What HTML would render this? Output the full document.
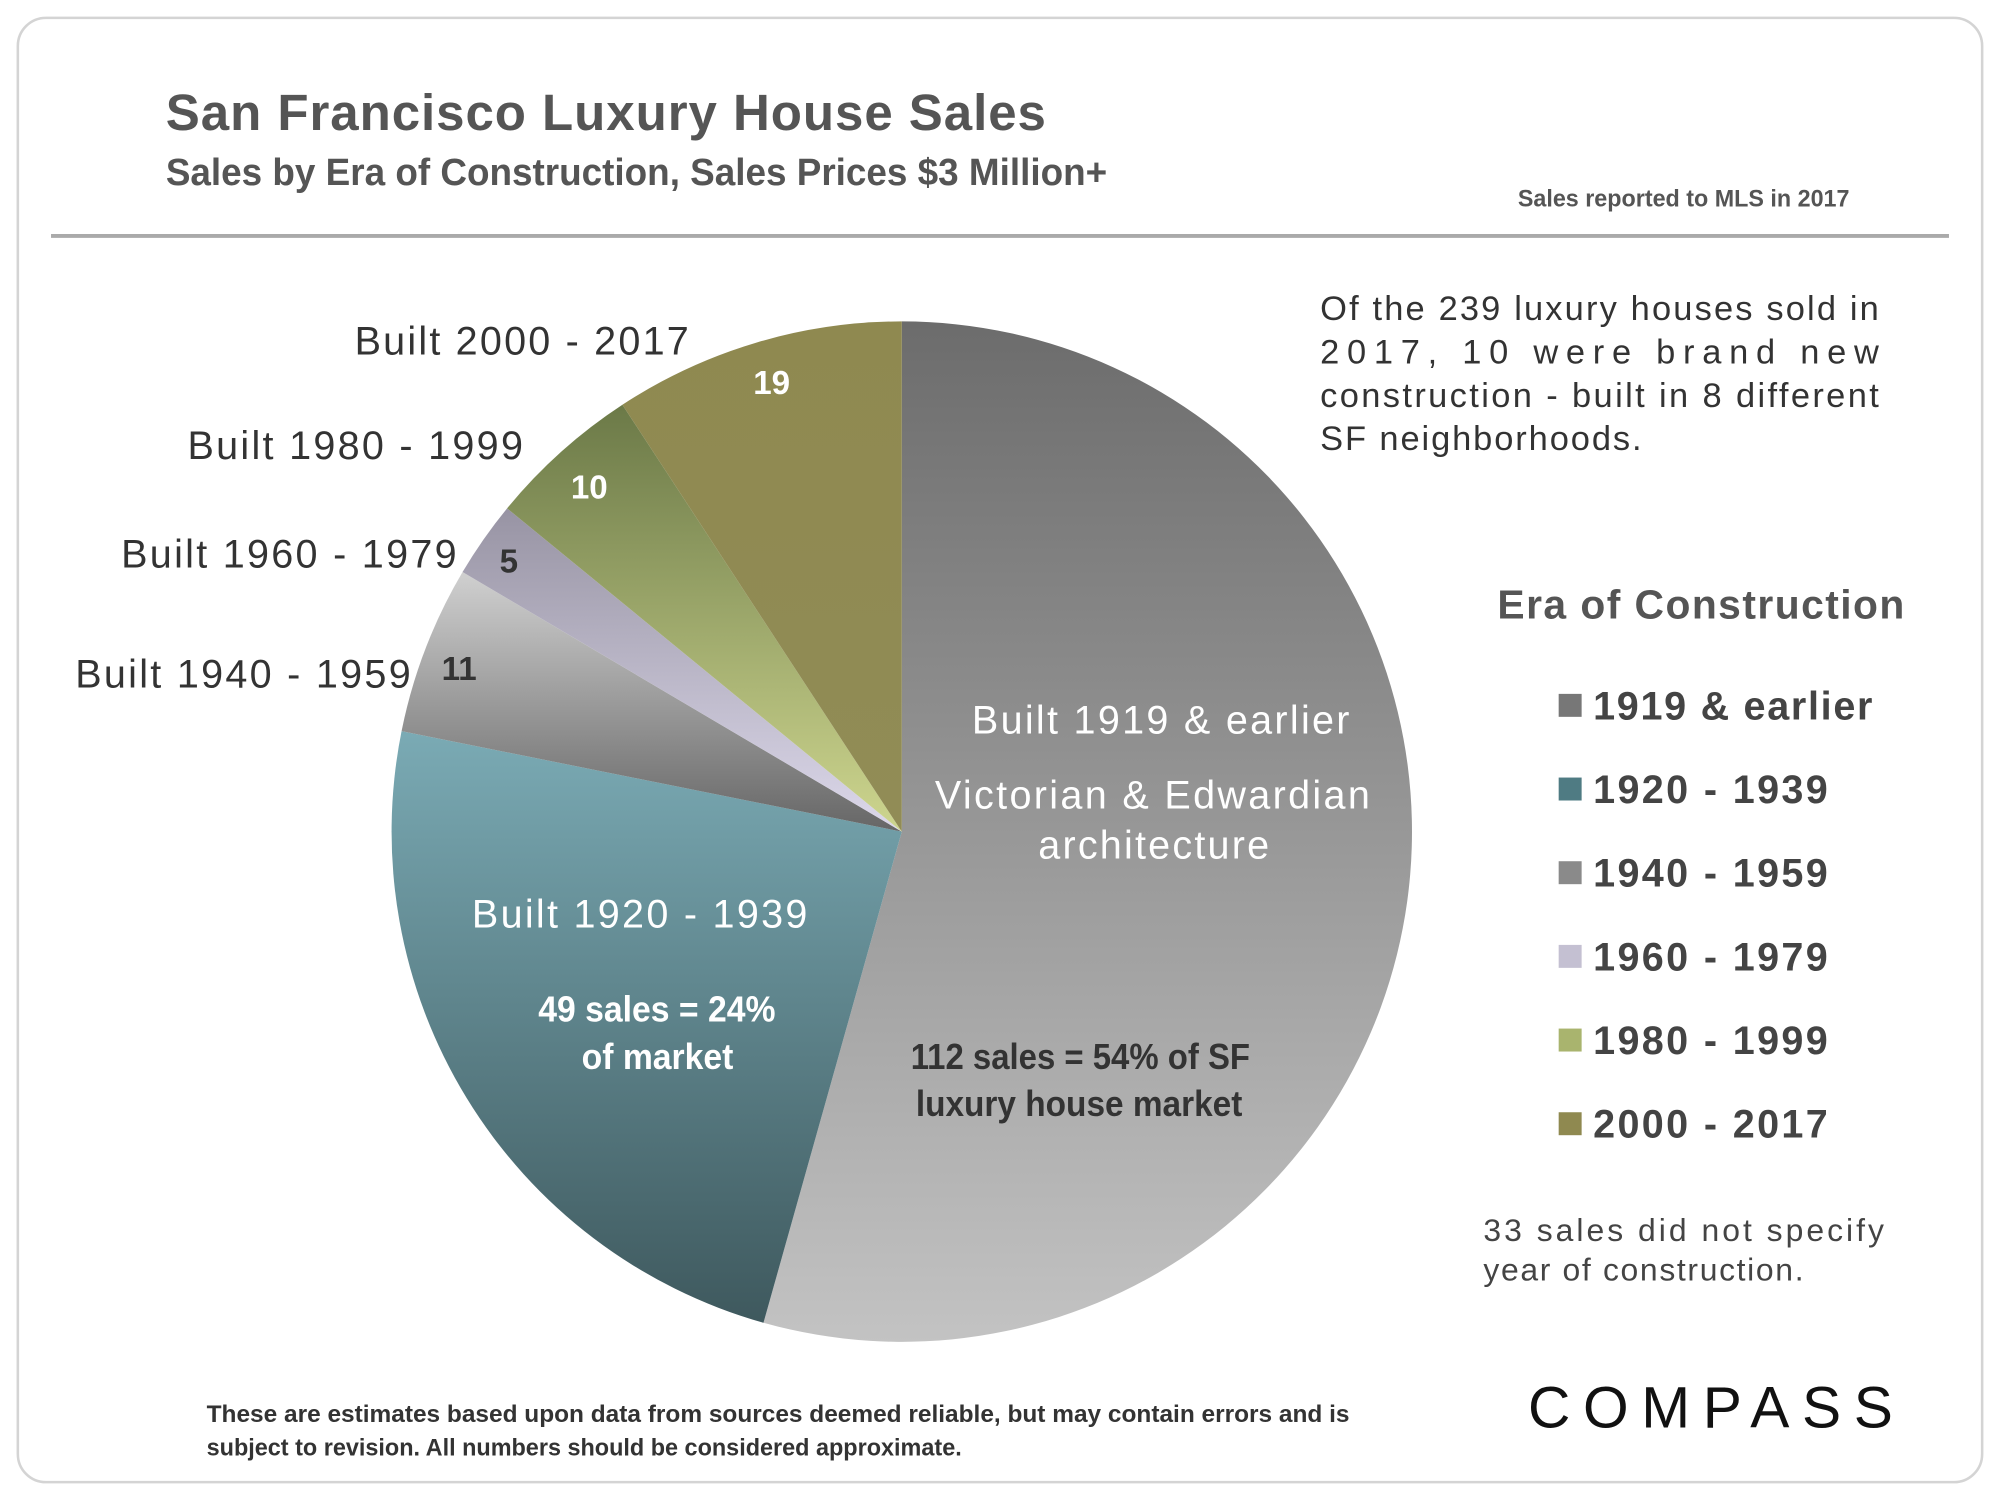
<!DOCTYPE html>
<html><head><meta charset="utf-8">
<style>
html,body{margin:0;padding:0;background:#fff;}
svg{display:block;}
text{font-family:"Liberation Sans",sans-serif;}
.cond{font-family:"Liberation Sans Narrow","Liberation Sans",sans-serif;font-weight:bold;}
</style></head>
<body>
<svg id="chart" width="2000" height="1500" viewBox="0 0 1568 1176" xmlns="http://www.w3.org/2000/svg">
<defs>
<linearGradient id="g0" gradientUnits="userSpaceOnUse" x1="0" y1="252" x2="0" y2="1053"><stop offset="0" stop-color="#6c6c6c"/><stop offset="1" stop-color="#c3c3c3"/></linearGradient>
<linearGradient id="g1" gradientUnits="userSpaceOnUse" x1="0" y1="575" x2="0" y2="1040"><stop offset="0" stop-color="#7aaab4"/><stop offset="1" stop-color="#3e585d"/></linearGradient>
<linearGradient id="g2" gradientUnits="userSpaceOnUse" x1="0" y1="450" x2="0" y2="650"><stop offset="0" stop-color="#cfcfcf"/><stop offset="1" stop-color="#676767"/></linearGradient>
<linearGradient id="g3" gradientUnits="userSpaceOnUse" x1="0" y1="400" x2="0" y2="650"><stop offset="0" stop-color="#9894a4"/><stop offset="1" stop-color="#dcd8ea"/></linearGradient>
<linearGradient id="g4" gradientUnits="userSpaceOnUse" x1="0" y1="320" x2="0" y2="650"><stop offset="0" stop-color="#6c7a48"/><stop offset="1" stop-color="#cdd58e"/></linearGradient>
<linearGradient id="g5" gradientUnits="userSpaceOnUse" x1="0" y1="252" x2="0" y2="650"><stop offset="0" stop-color="#8f8950"/><stop offset="1" stop-color="#918c56"/></linearGradient>
</defs>
<rect x="14" y="14" width="1540" height="1148" rx="22" fill="#fff" stroke="#d4d4d4" stroke-width="2"/>
<text x="130" y="102" font-size="40" font-weight="bold" fill="#555" textLength="690">San Francisco Luxury House Sales</text>
<text x="130" y="145" class="cond" font-size="30" fill="#555" textLength="738" lengthAdjust="spacingAndGlyphs">Sales by Era of Construction, Sales Prices $3 Million+</text>
<text x="1450" y="162" class="cond" font-size="19" fill="#555" text-anchor="end" textLength="260" lengthAdjust="spacingAndGlyphs">Sales reported to MLS in 2017</text>
<line x1="40" y1="185" x2="1528" y2="185" stroke="#aaa" stroke-width="3"/>
<g id="slices"></g>
<g font-size="31" fill="#333">
<text x="278" y="278" textLength="262">Built 2000 - 2017</text>
<text x="147" y="360" textLength="263">Built 1980 - 1999</text>
<text x="95" y="445" textLength="263">Built 1960 - 1979</text>
<text x="59" y="539" textLength="263">Built 1940 - 1959</text>
</g>
<g class="cond" font-size="26">
<text x="605" y="309" text-anchor="middle" fill="#fff">19</text>
<text x="462" y="391" text-anchor="middle" fill="#fff">10</text>
<text x="399" y="449" text-anchor="middle" fill="#333">5</text>
<text x="360" y="533" text-anchor="middle" fill="#333">11</text>
</g>
<g font-size="31" fill="#fff">
<text x="762" y="575" textLength="296">Built 1919 &amp; earlier</text>
<text x="733" y="634" textLength="341">Victorian &amp; Edwardian</text>
<text x="814" y="673" textLength="181">architecture</text>
<text x="370" y="727" textLength="263">Built 1920 - 1939</text>
</g>
<g class="cond" font-size="28">
<text x="422" y="801" fill="#fff" textLength="186" lengthAdjust="spacingAndGlyphs">49 sales = 24%</text>
<text x="456" y="838" fill="#fff" textLength="119" lengthAdjust="spacingAndGlyphs">of market</text>
<text x="714" y="838" fill="#333" textLength="266" lengthAdjust="spacingAndGlyphs">112 sales = 54% of SF</text>
<text x="718" y="875" fill="#333" textLength="256" lengthAdjust="spacingAndGlyphs">luxury house market</text>
</g>
<g font-size="27" fill="#333">
<text x="1035" y="251" textLength="438">Of the 239 luxury houses sold in</text>
<text x="1035" y="285" textLength="438">2017, 10 were brand new</text>
<text x="1035" y="319" textLength="438">construction - built in 8 different</text>
<text x="1035" y="353" textLength="252">SF neighborhoods.</text>
</g>
<text x="1174" y="485" font-size="32" font-weight="bold" fill="#555" textLength="319">Era of Construction</text>
<g id="legend"></g>
<text x="1163" y="973" font-size="25" fill="#444" textLength="314">33 sales did not specify</text>
<text x="1163" y="1004" font-size="25" fill="#444" textLength="251">year of construction.</text>
<text x="162" y="1115" class="cond" font-size="19" fill="#333" textLength="896" lengthAdjust="spacingAndGlyphs">These are estimates based upon data from sources deemed reliable, but may contain errors and is</text>
<text x="162" y="1141" class="cond" font-size="19" fill="#333" textLength="592" lengthAdjust="spacingAndGlyphs">subject to revision. All numbers should be considered approximate.</text>
<text x="1198" y="1119" font-size="46" fill="#111" textLength="286">COMPASS</text>
<script>
const categories = ["1919 & earlier","1920 - 1939","1940 - 1959","1960 - 1979","1980 - 1999","2000 - 2017"];
const salesCounts = [112, 49, 11, 5, 10, 19];
const legendSwatches = ["#777","#4f7b83","#8a8a8a","#c4c0d2","#a9b46e","#8f8950"];
const legendWidths = [219, 184, 184, 184, 184, 184];
const NS = "http://www.w3.org/2000/svg";
const cx = 707, cy = 652, r = 400;
const total = salesCounts.reduce((a,b)=>a+b,0);
function angleToPoint(a){ return [cx + r*Math.sin(a), cy - r*Math.cos(a)]; }
const slicesG = document.getElementById('slices');
let start = 0;
salesCounts.forEach((v,i)=>{
  const sweep = v/total*2*Math.PI;
  const end = start + sweep;
  const [x1,y1] = angleToPoint(start), [x2,y2] = angleToPoint(end);
  const p = document.createElementNS(NS,'path');
  p.setAttribute('d',`M${cx},${cy} L${x1},${y1} A${r},${r} 0 ${sweep>Math.PI?1:0} 1 ${x2},${y2} Z`);
  p.setAttribute('fill',`url(#g${i})`);
  
  
  slicesG.appendChild(p);
  start = end;
});
const legendG = document.getElementById('legend');
categories.forEach((c,i)=>{
  const y = 553 + i*65.6;
  const s = document.createElementNS(NS,'rect');
  s.setAttribute('x',1222); s.setAttribute('y',y-9); s.setAttribute('width',18); s.setAttribute('height',18);
  s.setAttribute('fill',legendSwatches[i]);
  
  
  legendG.appendChild(s);
  const t = document.createElementNS(NS,'text');
  t.setAttribute('x',1249); t.setAttribute('y',y+11);
  t.setAttribute('font-size','31'); t.setAttribute('font-weight','bold'); t.setAttribute('fill','#444');
  t.setAttribute('textLength', legendWidths[i]);
  t.textContent = c;
  
  
  legendG.appendChild(t);
});
</script>
</svg>
</body></html>
